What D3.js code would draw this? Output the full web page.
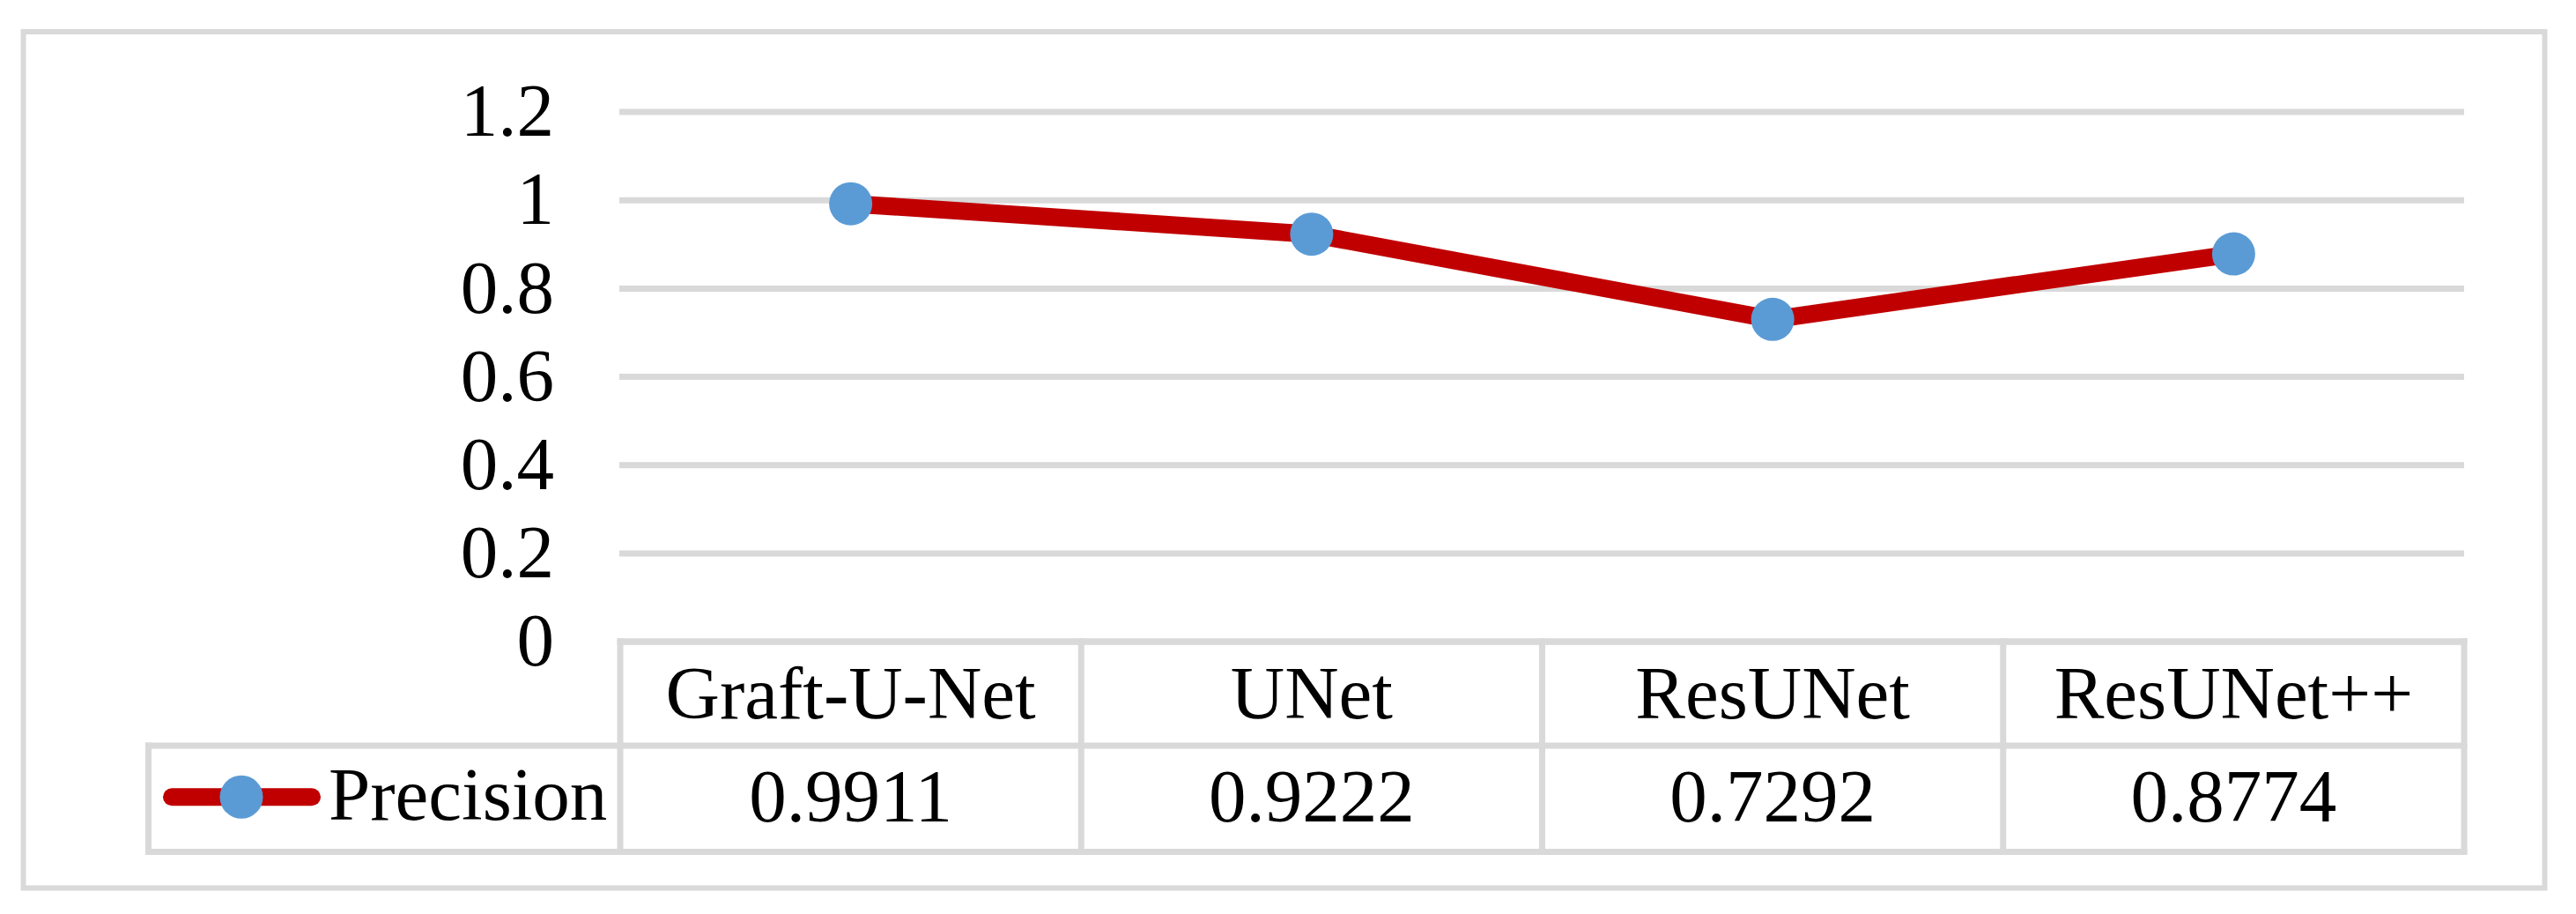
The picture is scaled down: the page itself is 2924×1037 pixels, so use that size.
<!DOCTYPE html>
<html>
<head>
<meta charset="utf-8">
<script src="https://cdn.jsdelivr.net/npm/d3@7"></script>
<style>
  html, body { margin: 0; padding: 0; background: #fff; }
  text { font-family: "Liberation Serif", "Times New Roman", serif; fill: #000; }
</style>
</head>
<body>
<div id="chart"></div>
<script>
// ── Data ─────────────────────────────────────────────────────────
const categories = ["Graft-U-Net", "UNet", "ResUNet", "ResUNet++"];
const precision = [0.9911, 0.9222, 0.7292, 0.8774];
const precisionLabels = ["0.9911", "0.9222", "0.7292", "0.8774"];
const yTicks = [0, 0.2, 0.4, 0.6, 0.8, 1, 1.2];
const seriesName = "Precision";

// ── Layout ───────────────────────────────────────────────────────
const width = 2924;
const height = 1037;
const gridColor = "#D9D9D9";
const lineColor = "#C00000";
const markerColor = "#5B9BD5";
const fontSize = 85;

const plotLeft = 704;
const plotRight = 2797;
const plotTop = 126.5;
const plotBottom = 727.7;   // the 0 level is the top of the data table
const rowSplit = 846;
const tableBottom = 966.5;
const legendLeft = 168.5;

const svg = d3.select("#chart")
    .append("svg")
    .attr("width", width)
    .attr("height", height)
    .attr("viewBox", `0 0 ${width} ${height}`);

// outer frame
svg.append("rect")
    .attr("x", 26.5)
    .attr("y", 36)
    .attr("width", 2888.5 - 26.5)
    .attr("height", 1007.5 - 36)
    .attr("fill", "none")
    .attr("stroke", gridColor)
    .attr("stroke-width", 6);

// ── Scales ───────────────────────────────────────────────────────
const xScale = d3.scaleBand()
    .domain(categories)
    .range([plotLeft, plotRight])
    .padding(0);

const yScale = d3.scaleLinear()
    .domain([0, 1.2])
    .range([plotBottom, plotTop]);

const cx = d => xScale(d) + xScale.bandwidth() / 2;

// ── Left axis with gridlines ─────────────────────────────────────
const leftAxis = d3.axisLeft(yScale)
    .tickValues(yTicks)
    .tickFormat(d3.format("~g"))
    .tickSize(-(plotRight - plotLeft + 1))
    .tickPadding(74);

const yAxis = svg.append("g")
    .attr("transform", `translate(${plotLeft - 1},0)`)
    .call(leftAxis);

yAxis.select(".domain").remove();
yAxis.selectAll(".tick line")
    .attr("stroke", gridColor)
    .attr("stroke-width", 7);
yAxis.selectAll(".tick text")
    .style("font-family", '"Liberation Serif", "Times New Roman", serif')
    .style("font-size", `${fontSize}px`)
    .attr("fill", "#000");

// ── Data table ───────────────────────────────────────────────────
const table = svg.append("g")
    .attr("stroke", gridColor)
    .attr("stroke-width", 7)
    .attr("stroke-linecap", "square");

// horizontal rules
table.append("line")
    .attr("x1", plotLeft).attr("x2", plotRight)
    .attr("y1", plotBottom).attr("y2", plotBottom);
[rowSplit, tableBottom].forEach(y => {
    table.append("line")
        .attr("x1", legendLeft).attr("x2", plotRight)
        .attr("y1", y).attr("y2", y);
});

// vertical rules: column edges
const colEdges = [plotLeft].concat(categories.map(c => xScale(c) + xScale.bandwidth()));
table.selectAll(".col-edge")
    .data(colEdges)
    .join("line")
    .attr("class", "col-edge")
    .attr("x1", d => d).attr("x2", d => d)
    .attr("y1", plotBottom).attr("y2", tableBottom);

table.append("line")
    .attr("x1", legendLeft).attr("x2", legendLeft)
    .attr("y1", rowSplit).attr("y2", tableBottom);

// category labels
svg.selectAll(".cat-label")
    .data(categories)
    .join("text")
    .attr("class", "cat-label")
    .attr("x", d => cx(d))
    .attr("y", 815)
    .attr("text-anchor", "middle")
    .style("font-size", `${fontSize}px`)
    .text(d => d);

// value labels
svg.selectAll(".val-label")
    .data(categories)
    .join("text")
    .attr("class", "val-label")
    .attr("x", d => cx(d))
    .attr("y", 932)
    .attr("text-anchor", "middle")
    .style("font-size", `${fontSize}px`)
    .text((d, i) => precisionLabels[i]);

// legend key inside the table
const legendY = (rowSplit + tableBottom) / 2 - 2;
svg.append("line")
    .attr("x1", 195).attr("x2", 354)
    .attr("y1", legendY).attr("y2", legendY)
    .attr("stroke", lineColor)
    .attr("stroke-width", 20)
    .attr("stroke-linecap", "round");
svg.append("circle")
    .attr("cx", 274)
    .attr("cy", legendY)
    .attr("r", 24.5)
    .attr("fill", markerColor);
svg.append("text")
    .attr("x", 373)
    .attr("y", 930)
    .style("font-size", `${fontSize}px`)
    .text(seriesName);

// ── Series ───────────────────────────────────────────────────────
const points = categories.map((c, i) => ({ cat: c, value: precision[i] }));

const line = d3.line()
    .x(d => cx(d.cat))
    .y(d => yScale(d.value));

svg.append("path")
    .datum(points)
    .attr("d", line)
    .attr("fill", "none")
    .attr("stroke", lineColor)
    .attr("stroke-width", 20)
    .attr("stroke-linejoin", "round");

svg.selectAll(".marker")
    .data(points)
    .join("circle")
    .attr("class", "marker")
    .attr("cx", d => cx(d.cat))
    .attr("cy", d => yScale(d.value))
    .attr("r", 24.5)
    .attr("fill", markerColor);
</script>
</body>
</html>
